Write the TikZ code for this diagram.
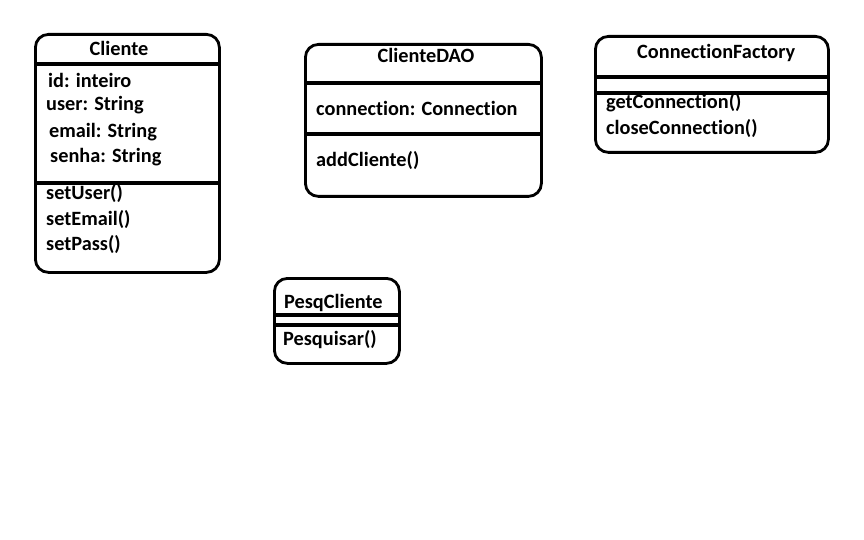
\documentclass[tikz,border=0pt]{standalone}
\usepackage{fontspec}
\setmainfont{Carlito}[Ligatures={NoCommon}]
\begin{document}
\begin{tikzpicture}[x=1pt,y=-1pt,
  box/.style={draw, line width=2.8pt, rounded corners=13pt, anchor=north west, inner sep=0pt},
  div/.style={line width=3.2pt},
  txt/.style={anchor=base west, inner sep=0pt, font=\fontsize{20.3}{24}\selectfont\bfseries},
  ttl/.style={anchor=base, inner sep=0pt, font=\fontsize{20.3}{24}\selectfont\bfseries}]
\useasboundingbox (0,0) rectangle (864,540);
% Cliente
\node[box, minimum width=184pt, minimum height=238pt] (cli) at (34,33) {};
\draw[div] (cli.west |- 0,64) coordinate (c1a) -- (cli.east |- 0,64) coordinate (c1b);
\draw[div] (cli.west |- 0,183) coordinate (c2a) -- (cli.east |- 0,183) coordinate (c2b);
\node[ttl] (clit) at (119,56) {Cliente};
\node[txt] (cid) at (48,88) {id: inteiro};
\node[txt] (cuser) at (46,111) {user: String};
\node[txt] (cemail) at (49,138) {email: String};
\node[txt] (csenha) at (50,163) {senha: String};
\node[txt] (csu) at (46,200) {setUser()};
\node[txt] (cse) at (46,225) {setEmail()};
\node[txt] (csp) at (46,250) {setPass()};
% ClienteDAO
\node[box, minimum width=236pt, minimum height=152pt] (dao) at (304,43) {};
\draw[div] (dao.west |- 0,83) -- (dao.east |- 0,83);
\draw[div] (dao.west |- 0,134) -- (dao.east |- 0,134);
\node[ttl] (daot) at (426,63) {ClienteDAO};
\node[txt] (daoc) at (316,116) {connection: Connection};
\node[txt] (daoa) at (316,167) {addCliente()};
% ConnectionFactory
\node[box, minimum width=233pt, minimum height=116pt] (cf) at (594,35) {};
\draw[div] (cf.west |- 0,77) -- (cf.east |- 0,77);
\draw[div] (cf.west |- 0,93) -- (cf.east |- 0,93);
\node[txt] (cft) at (637,59) {ConnectionFactory};
\node[txt] (cfg) at (606,109) {getConnection()};
\node[txt] (cfc) at (606,135) {closeConnection()};
% PesqCliente
\node[box, minimum width=125pt, minimum height=85pt] (pq) at (273,277) {};
\coordinate (pe1) at (400,315);
\coordinate (pe2) at (400,325);
\draw[div] (pq.west |- pe1) -- (pe1);
\draw[div] (pq.west |- pe2) -- (pe2);
\node[txt] (pqt) at (284,308) {PesqCliente};
\node[txt] (pqp) at (283,345) {Pesquisar()};
\end{tikzpicture}
\end{document}
